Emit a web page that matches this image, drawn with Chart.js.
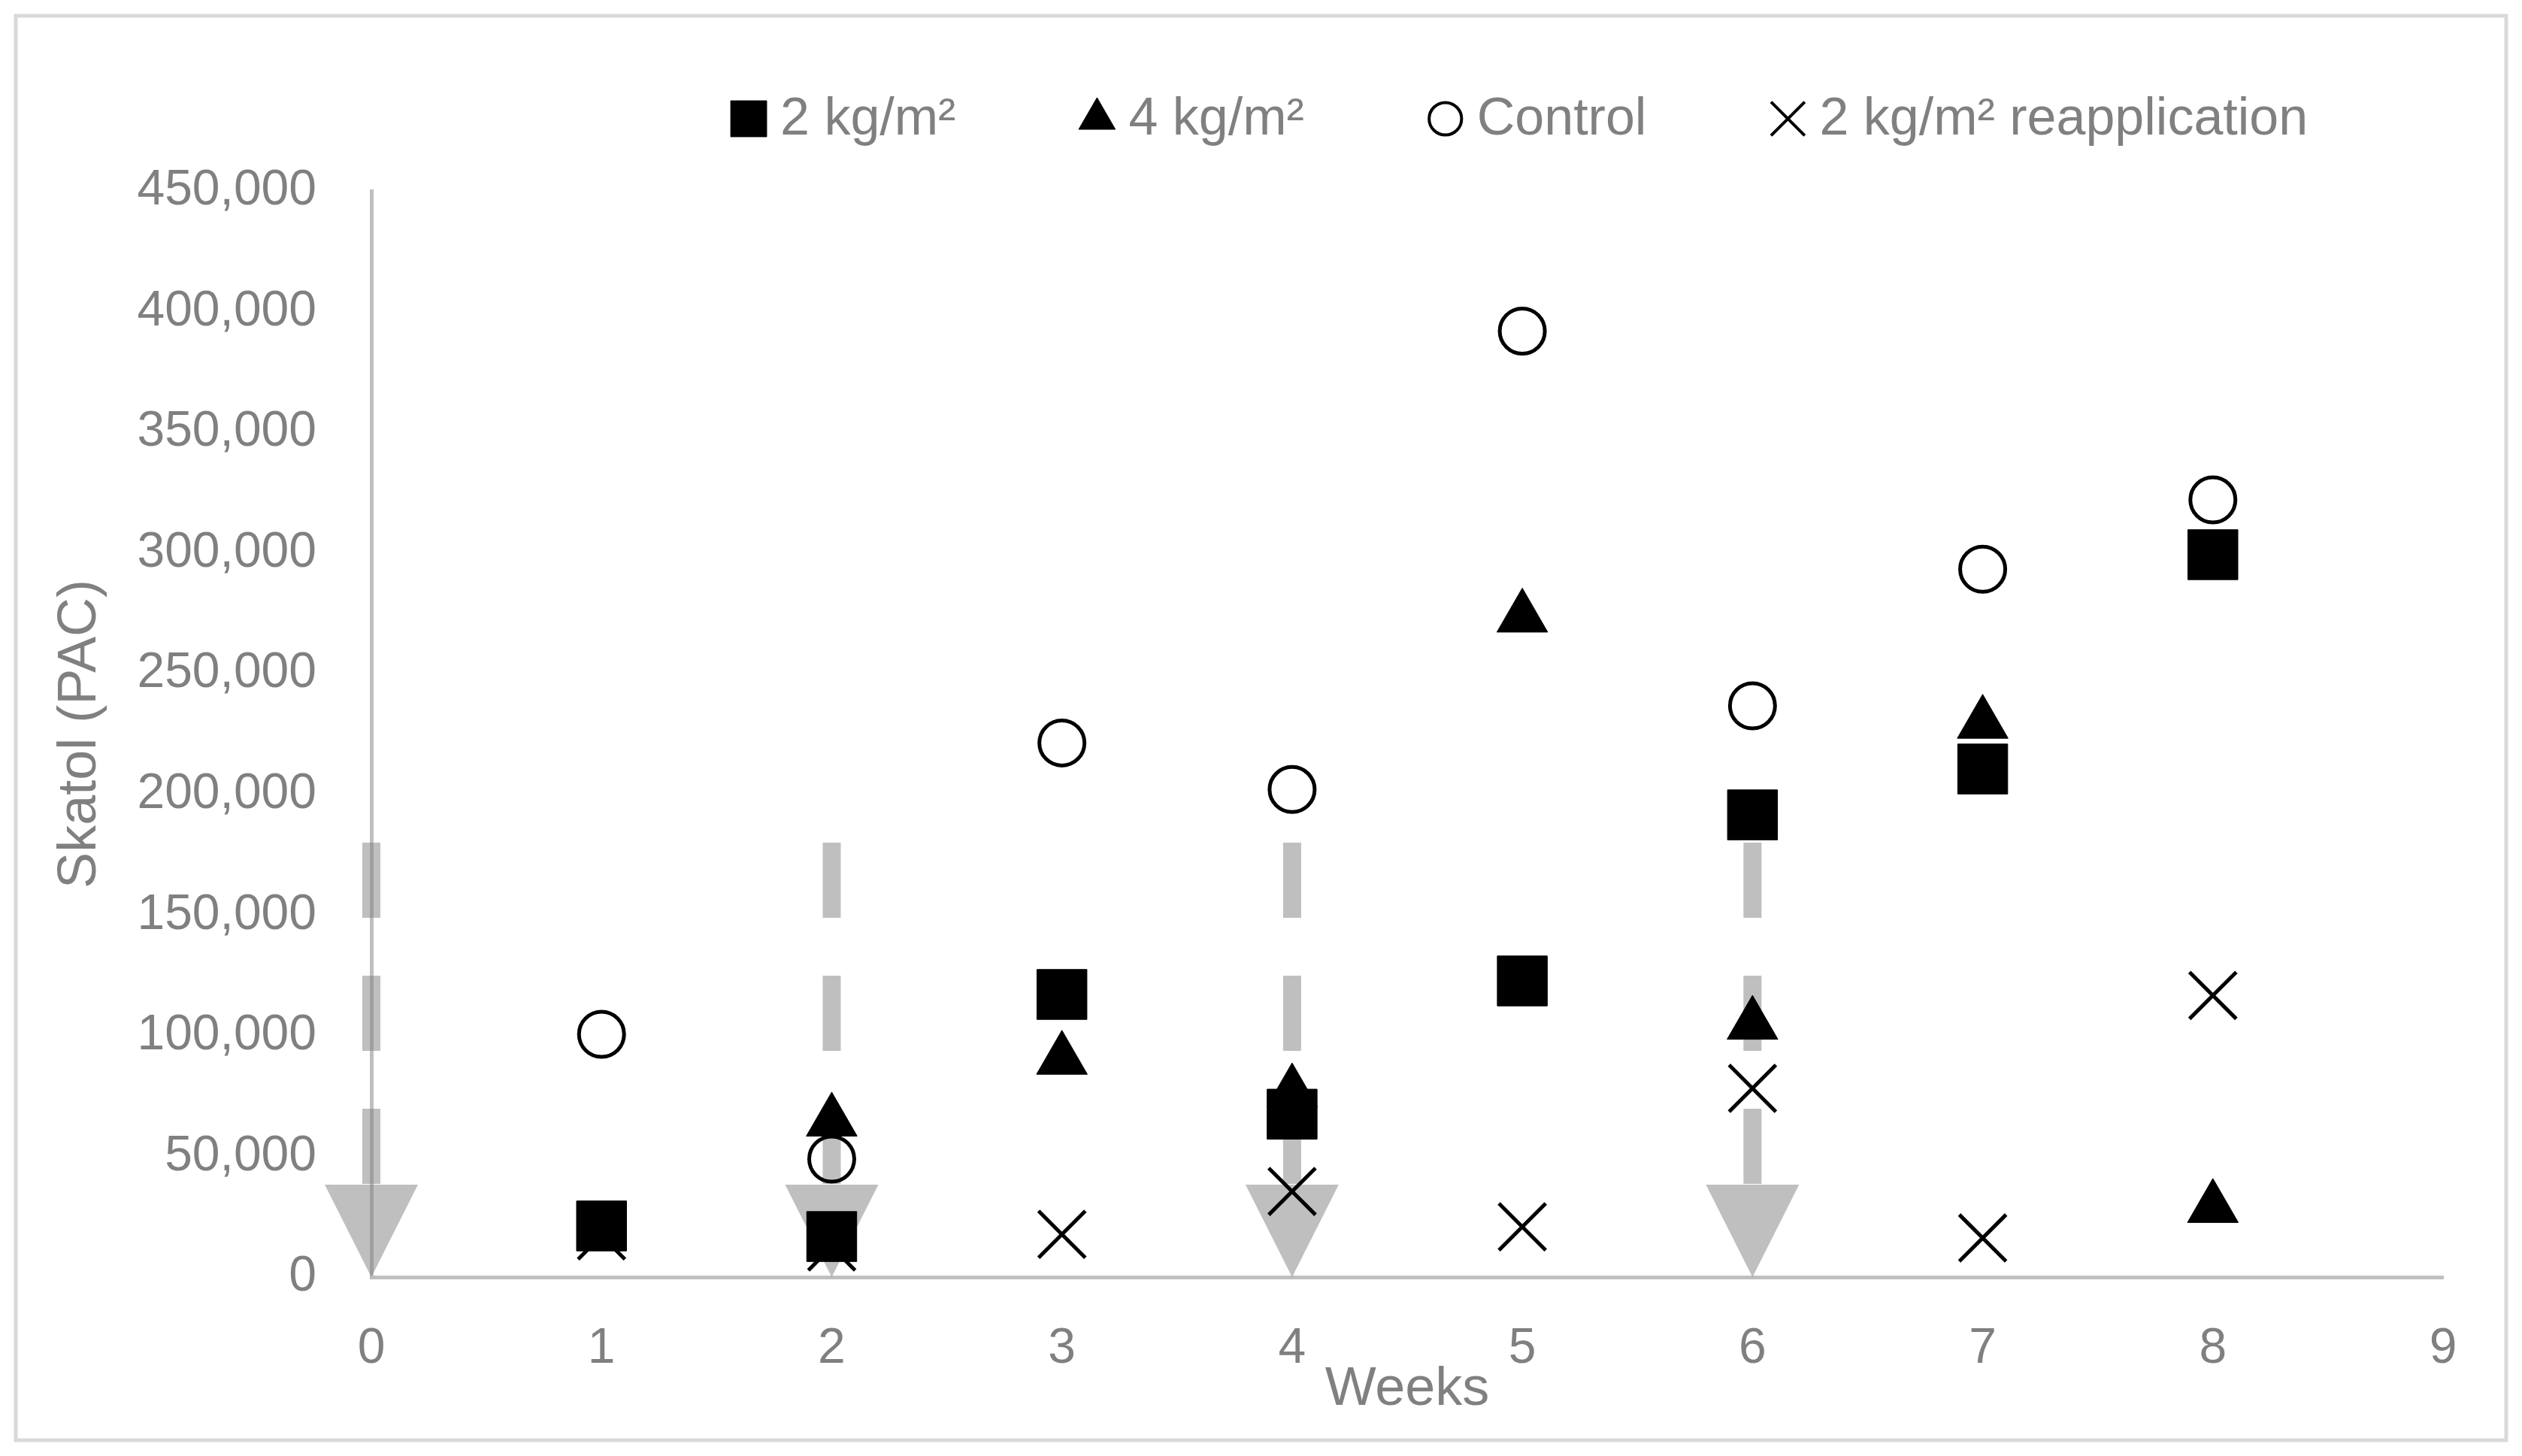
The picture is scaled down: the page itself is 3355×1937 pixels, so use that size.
<!DOCTYPE html>
<html>
<head>
<meta charset="utf-8">
<script src="https://cdn.jsdelivr.net/npm/chart.js@4.4.1/dist/chart.umd.min.js"></script>
<style>
  html, body { margin: 0; padding: 0; background: #fff; }
  #wrap { width: 3355px; height: 1937px; }
</style>
</head>
<body>
<div id="wrap"><canvas id="myChart"></canvas></div>
<script>
// weeks with measurements
const weeks = [1, 2, 3, 4, 5, 6, 7, 8];
// Skatol (PAC) per treatment
const dose2 = [21200, 16800, 117100, 67500, 122700, 191500, 210500, 299300];
const dose4 = [null, 64500, 90100, 76600, 273300, 104600, 229300, 28700];
const control = [100600, 48900, 221300, 202000, 391900, 236700, 293300, 322000];
const reapplication = [17100, 12500, 17700, 35500, 20800, 78200, 16200, 116700];

const seriesNames = ['2 kg/m\u00b2', '4 kg/m\u00b2', 'Control', '2 kg/m\u00b2 reapplication'];
const xTickLabels = ['0', '1', '2', '3', '4', '5', '6', '7', '8', '9'];
const yTickLabels = ['0', '50,000', '100,000', '150,000', '200,000', '250,000', '300,000', '350,000', '400,000', '450,000'];

// application times (grey arrows)
const arrowWeeks = [0, 2, 4, 6];
const arrowTop = 180000;

const grey = '#808080';
Chart.defaults.font.family = "'Liberation Sans', Arial, sans-serif";
Chart.defaults.color = grey;

function points(values) {
    return weeks.map((w, i) => ({x: w, y: values[i]})).filter(p => p.y !== null);
}

const frame = {
    id: 'frame',
    beforeDraw(chart) {
        const ctx = chart.ctx;
        ctx.save();
        ctx.strokeStyle = '#d9d9d9';
        ctx.lineWidth = 5;
        ctx.strokeRect(21, 21, chart.width - 42, chart.height - 42);
        ctx.restore();
    }
};

const arrows = {
    id: 'arrows',
    beforeDatasetsDraw(chart) {
        const {ctx, scales: {x, y}} = chart;
        const y0 = y.getPixelForValue(0);
        const yTop = y.getPixelForValue(arrowTop);
        const headH = 123, headW = 124;
        ctx.save();
        ctx.fillStyle = 'rgba(128,128,128,0.5)';
        ctx.strokeStyle = 'rgba(128,128,128,0.5)';
        arrowWeeks.forEach(w => {
            const px = x.getPixelForValue(w);
            ctx.lineWidth = 24;
            ctx.setLineDash([100, 77]);
            ctx.beginPath();
            ctx.moveTo(px, yTop);
            ctx.lineTo(px, y0 - headH);
            ctx.stroke();
            ctx.setLineDash([]);
            ctx.beginPath();
            ctx.moveTo(px - headW / 2, y0 - headH);
            ctx.lineTo(px + headW / 2, y0 - headH);
            ctx.lineTo(px, y0);
            ctx.closePath();
            ctx.fill();
        });
        ctx.restore();
    }
};

// legend drawn by hand so it sits where the original one does
const legendBox = {
    id: 'legendBox',
    afterDraw(chart) {
        const ctx = chart.ctx;
        let x = 996;
        const yc = 158;
        ctx.save();
        ctx.font = "70px 'Liberation Sans', Arial, sans-serif";
        ctx.textBaseline = 'middle';
        chart.data.datasets.forEach(ds => {
            ctx.fillStyle = ds.backgroundColor;
            ctx.strokeStyle = ds.borderColor;
            ctx.lineWidth = Math.max(ds.borderWidth - 1, 1);
            Chart.helpers.drawPoint(ctx, {
                pointStyle: ds.pointStyle,
                radius: ds.pointRadius * 0.72,
                rotation: 0,
                borderWidth: ctx.lineWidth
            }, x, yc);
            ctx.fillStyle = grey;
            ctx.fillText(ds.label, x + 42, yc + 2);
            x += 42 + ctx.measureText(ds.label).width + 188;
        });
        ctx.restore();
    }
};

new Chart(document.getElementById('myChart'), {
    type: 'scatter',
    data: {
        datasets: [{
            label: seriesNames[0],
            data: points(dose2),
            pointStyle: 'rect',
            pointRadius: 47,
            backgroundColor: '#000',
            borderColor: '#000',
            borderWidth: 1
        }, {
            label: seriesNames[1],
            data: points(dose4),
            pointStyle: 'triangle',
            pointRadius: 39,
            backgroundColor: '#000',
            borderColor: '#000',
            borderWidth: 1
        }, {
            label: seriesNames[2],
            data: points(control),
            pointStyle: 'circle',
            pointRadius: 30,
            backgroundColor: 'rgba(0,0,0,0)',
            borderColor: '#000',
            borderWidth: 5
        }, {
            label: seriesNames[3],
            data: points(reapplication),
            pointStyle: 'crossRot',
            pointRadius: 44,
            backgroundColor: 'rgba(0,0,0,0)',
            borderColor: '#000',
            borderWidth: 5
        }]
    },
    options: {
        responsive: true,
        maintainAspectRatio: false,
        devicePixelRatio: 1,
        animation: false,
        layout: {padding: {left: 64, right: 105, top: 254, bottom: 45}},
        plugins: {
            legend: {display: false},
            tooltip: {enabled: false}
        },
        scales: {
            x: {
                type: 'linear',
                min: 0,
                max: 9,
                afterFit: s => { s.height = 193; },
                grid: {display: false, drawTicks: false},
                border: {color: '#bfbfbf', width: 5},
                ticks: {
                    stepSize: 1,
                    padding: 56,
                    color: grey,
                    font: {size: 66},
                    callback: (v, i) => xTickLabels[i]
                },
                title: {display: true, text: 'Weeks', color: grey, font: {size: 72}, padding: 0}
            },
            y: {
                min: 0,
                max: 450000,
                afterFit: s => { s.width = 430; },
                grid: {display: false, drawTicks: false},
                border: {color: '#bfbfbf', width: 5},
                ticks: {
                    stepSize: 50000,
                    padding: 73,
                    color: grey,
                    font: {size: 66},
                    callback: (v, i) => yTickLabels[i]
                },
                title: {display: true, text: 'Skatol (PAC)', color: grey, font: {size: 72}, padding: 0}
            }
        }
    },
    plugins: [frame, arrows, legendBox]
});
</script>
</body>
</html>
